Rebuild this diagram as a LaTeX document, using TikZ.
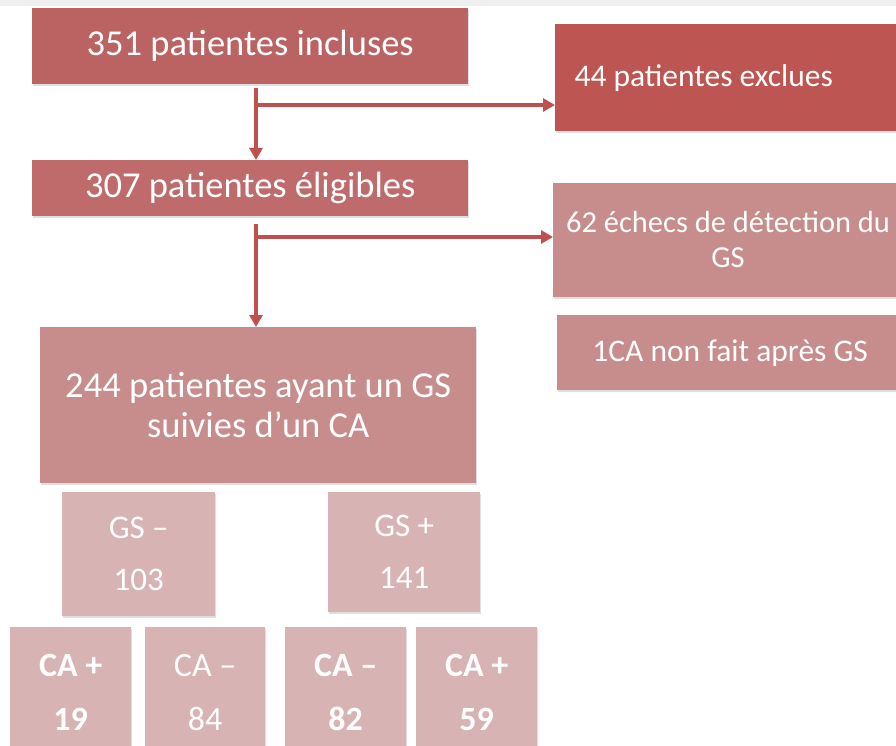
\documentclass[tikz,border=0pt]{standalone}
\usepackage{fontspec}
\setmainfont{Carlito}
\usepackage{tikz}
\usetikzlibrary{arrows.meta,positioning,calc,shadows}
\definecolor{inclcol}{HTML}{BB6262}
\definecolor{exclcol}{HTML}{BD5653}
\definecolor{eligcol}{HTML}{BF6B6C}
\definecolor{midcol}{HTML}{C78C8C}
\definecolor{lowcol}{HTML}{D8B3B3}
\definecolor{arrcol}{HTML}{C0504D}

\begin{document}
\begin{tikzpicture}[x=1pt,y=-1pt,
  box/.style={anchor=north west,inner sep=0pt,text=white,align=center,
    drop shadow={opacity=0.25,shadow xshift=1pt,shadow yshift=-2pt}},
  arr/.style={-{Triangle[length=12pt,width=13pt]},line width=3.5pt,draw=arrcol}]
  \useasboundingbox (0,0) rectangle (896,746);
  \clip (0,0) rectangle (896,746);
  \fill[gray!12] (0,0) rectangle (896,6);
  % top chain
  \node[box,fill=inclcol,minimum width=436pt,minimum height=76pt,font=\fontsize{36.5}{40}\selectfont] (incl) at (32,8) {351 patientes incluses};
  \node[box,fill=exclcol,minimum width=360pt,minimum height=107pt] (excl) at (555,24) {};
  \node[anchor=west,text=white,font=\fontsize{31.5}{36}\selectfont] (excltxt) at (571,78) {44 patientes exclues};
  \node[box,fill=eligcol,minimum width=436pt,minimum height=56pt,font=\fontsize{36.5}{40}\selectfont] (elig) at (32,160) {307 patientes éligibles};
  \node[box,fill=midcol,minimum width=356pt,minimum height=114pt] (echec) at (553,183) {};
  \node[text=white,align=center,inner sep=0pt,font=\fontsize{30.5}{35}\selectfont] (echectxt) at (728,240) {62 échecs de détection du\\GS};
  \node[box,fill=midcol,minimum width=346pt,minimum height=75pt,font=\fontsize{31.5}{35}\selectfont] (nonfait) at (557,315) {1CA non fait après GS};
  \node[box,fill=midcol,minimum width=436pt,minimum height=156pt,font=\fontsize{36.5}{40}\selectfont] (suivi) at (40,327) {244 patientes ayant un GS\\suivies d’un CA};
  % GS groups
  \node[box,fill=lowcol,minimum width=153pt,minimum height=124pt,font=\fontsize{33}{52}\selectfont] (gsneg) at (62,492) {GS –\\103};
  \node[box,fill=lowcol,minimum width=152pt,minimum height=120pt,font=\fontsize{33}{52}\selectfont] (gspos) at (328,492) {GS +\\141};
  % CA results
  \node[box,fill=lowcol,minimum width=121pt,minimum height=130pt,font=\bfseries\fontsize{34}{54}\selectfont] (caa) at (10,627) {CA +\\19};
  \node[box,fill=lowcol,minimum width=120pt,minimum height=130pt,font=\fontsize{34}{54}\selectfont] (cab) at (145,627) {CA –\\84};
  \node[box,fill=lowcol,minimum width=121pt,minimum height=130pt,font=\bfseries\fontsize{34}{54}\selectfont] (cac) at (285,627) {CA –\\82};
  \node[box,fill=lowcol,minimum width=121pt,minimum height=130pt,font=\bfseries\fontsize{34}{54}\selectfont] (cad) at (416,627) {CA +\\59};
  % connectors
  \coordinate (fork1) at (256,105);
  \coordinate (fork2) at (256,237);
  \draw[arr,shorten <=4pt] (incl.south -| fork1) -- (elig.north -| fork1);
  \draw[arr] ([xshift=-1.75pt]fork1) -- (excl.west |- fork1);
  \draw[arr,shorten <=8pt] (elig.south -| fork2) -- (suivi.north -| fork2);
  \draw[arr] ([xshift=-1.75pt]fork2) -- (echec.west |- fork2);
\end{tikzpicture}
\end{document}
